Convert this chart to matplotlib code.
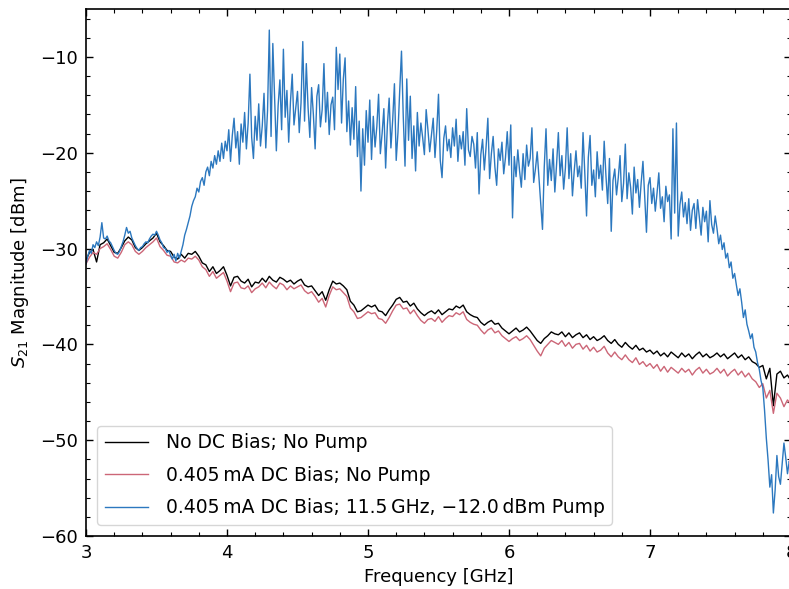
import numpy as np
import matplotlib
matplotlib.use("Agg")
import matplotlib.pyplot as plt
from matplotlib.ticker import MultipleLocator

plt.rcParams["font.family"] = ["DejaVu Sans"]
plt.rcParams["mathtext.fontset"] = "dejavusans"
plt.rcParams["axes.unicode_minus"] = True

# Frequency sweeps [GHz]
freq_ref = np.linspace(3.0, 8.0, 201)
freq_pump = np.linspace(3.0, 8.0, 401)

# |S21| with no DC bias and no pump [dBm]
s21_nobias = [
    -31.2, -30.4, -30.1, -31.4, -29.6, -29.4, -29.0, -29.7, -30.4, -30.5, -29.9, -29.2, -28.8, -29.1, -29.9, -30.2, -29.9, -29.5, -29.2, -28.9,
    -28.4, -29.3, -29.7, -30.2, -30.3, -30.9, -31.1, -30.6, -31.0, -30.5, -30.6, -30.3, -30.8, -31.5, -31.7, -32.4, -31.9, -32.6, -32.3, -31.9,
    -32.8, -33.9, -33.0, -32.9, -33.4, -33.6, -33.2, -34.0, -33.5, -33.6, -33.1, -33.5, -32.9, -33.3, -33.5, -33.0, -33.2, -33.5, -33.3, -33.7,
    -33.4, -33.2, -33.8, -34.0, -33.9, -34.4, -34.9, -34.5, -35.4, -34.3, -33.4, -33.7, -33.6, -33.9, -34.3, -35.5, -35.9, -36.6, -36.5, -36.2,
    -35.9, -36.1, -35.9, -36.5, -36.6, -37.0, -36.4, -35.9, -35.3, -35.1, -35.6, -35.5, -36.0, -35.7, -36.3, -36.7, -37.0, -36.7, -36.5, -36.8,
    -36.4, -36.9, -36.6, -36.3, -36.4, -36.0, -36.2, -35.9, -36.6, -36.9, -37.1, -37.2, -37.7, -38.0, -37.7, -37.5, -37.9, -37.8, -38.3, -38.6,
    -38.9, -38.6, -38.3, -38.7, -38.5, -38.2, -38.6, -39.1, -39.6, -39.9, -39.4, -39.1, -38.7, -38.9, -39.0, -38.7, -39.2, -38.8, -39.3, -39.0,
    -38.8, -39.3, -39.0, -39.5, -39.2, -39.6, -39.4, -39.1, -39.6, -39.9, -39.5, -40.0, -40.3, -39.8, -40.2, -40.5, -40.1, -40.6, -40.4, -40.8,
    -40.6, -41.0, -40.7, -41.2, -40.9, -41.3, -40.8, -41.1, -41.4, -40.9, -41.3, -41.0, -41.5, -41.1, -40.8, -41.3, -41.0, -41.4, -41.2, -40.9,
    -41.3, -41.0, -41.5, -41.2, -40.9, -41.4, -41.1, -41.6, -41.3, -41.8, -42.0, -42.4, -42.2, -43.6, -42.5, -46.4, -43.1, -42.8, -43.5, -43.2,
    -43.8,
]

# |S21| with 0.405 mA DC bias, no pump [dBm]
s21_bias = [
    -31.6, -30.9, -30.4, -30.6, -30.0, -29.8, -29.5, -30.1, -30.8, -31.0, -30.4, -29.6, -29.3, -29.6, -30.3, -30.6, -30.3, -29.9, -29.6, -29.3,
    -28.9, -29.8, -30.2, -30.7, -30.8, -31.4, -31.5, -31.2, -31.4, -31.0, -31.1, -30.8, -31.2, -31.9, -32.2, -32.9, -32.4, -33.1, -32.8, -32.5,
    -33.4, -34.5, -33.6, -33.5, -34.1, -34.2, -33.9, -34.6, -34.2, -34.0, -33.6, -34.1, -33.5, -33.9, -34.2, -33.6, -33.8, -34.3, -33.9, -34.2,
    -34.0, -33.8, -34.4, -34.7, -34.5, -35.0, -35.6, -35.2, -36.1, -34.9, -34.0, -34.3, -34.2, -34.6, -35.0, -36.2, -36.6, -37.3, -37.2, -36.9,
    -36.6, -36.8, -36.7, -37.3, -37.4, -37.8, -37.2, -36.5, -35.9, -35.8, -36.3, -36.2, -36.8, -36.4, -37.0, -37.5, -37.8, -37.4, -37.3, -37.6,
    -37.1, -37.7, -37.3, -37.0, -37.1, -36.7, -36.9, -36.6, -37.4, -37.7, -37.9, -38.0, -38.5, -38.9, -38.5, -38.3, -38.8, -38.6, -39.1, -39.4,
    -39.7, -39.4, -39.2, -39.6, -39.4, -39.1, -39.5, -40.1, -40.7, -41.2, -40.4, -40.0, -39.6, -39.8, -40.0, -39.6, -40.2, -39.8, -40.4, -40.0,
    -39.9, -40.5, -40.1, -40.7, -40.3, -40.8, -40.6, -40.2, -40.9, -41.3, -40.8, -41.3, -41.6, -41.1, -41.6, -41.9, -41.4, -42.1, -41.8, -42.3,
    -42.0, -42.5, -42.1, -42.8, -42.3, -42.9, -42.4, -42.7, -43.0, -42.5, -42.9, -42.6, -43.2, -42.7, -42.4, -43.0, -42.6, -43.1, -42.9, -42.5,
    -43.0, -42.6, -43.3, -42.9, -42.6, -43.2, -42.8, -43.4, -43.0, -43.6, -43.9, -44.5, -44.1, -45.6, -44.8, -47.2, -45.1, -45.6, -46.5, -45.8,
    -46.3,
]

# |S21| with 0.405 mA DC bias and an 11.5 GHz, -12 dBm pump [dBm]
s21_pumped = [
    -31.6, -30.8, -30.2, -30.5, -29.6, -29.9, -29.3, -29.7, -28.8, -27.3, -28.9, -29.0, -28.7, -29.2, -29.4, -29.8, -30.2, -30.5, -30.6, -30.3,
    -29.8, -29.3, -28.6, -27.8, -28.4, -28.2, -28.9, -29.3, -29.7, -30.0, -30.2, -29.9, -29.8, -29.5, -29.3, -29.4, -29.0, -28.7, -28.5, -28.6,
    -28.2, -28.6, -29.1, -29.4, -29.9, -30.0, -30.4, -30.2, -30.7, -31.1, -30.6, -31.3, -30.5, -31.0, -30.3, -29.6, -28.6, -28.0, -27.3, -26.6,
    -25.6, -25.0, -24.6, -23.7, -24.1, -23.0, -22.6, -23.4, -22.0, -21.5, -22.4, -20.9, -21.6, -20.3, -21.2, -19.8, -20.9, -19.0, -20.6, -18.8,
    -19.8, -17.6, -20.9, -18.2, -16.4, -19.5, -17.8, -21.2, -17.0, -18.9, -15.8, -19.6, -16.9, -11.8, -18.4, -20.6, -16.2, -18.7, -14.9, -19.3,
    -17.2, -13.8, -19.5, -15.6, -7.2, -18.3, -8.6, -14.2, -19.8, -15.1, -12.4, -17.6, -9.2, -16.3, -13.5, -18.9, -14.7, -11.8, -17.1, -15.4,
    -13.6, -17.9, -14.8, -8.4, -16.7, -10.7, -15.3, -18.4, -13.2, -16.0, -19.6, -14.1, -12.9, -17.3, -15.5, -10.7, -16.8, -13.7, -18.1, -15.0,
    -14.2, -17.6, -9.0, -13.4, -9.7, -16.9, -12.3, -10.1, -17.8, -14.6, -19.2, -15.3, -18.6, -13.1, -20.4, -16.7, -24.0, -17.5, -21.3, -15.6,
    -18.9, -14.5, -20.7, -16.2, -19.4, -17.3, -13.9, -20.1, -18.0, -15.4, -21.6, -17.1, -14.3, -19.5, -16.6, -12.8, -20.8, -17.9, -13.5, -9.4,
    -16.2, -21.4, -12.3, -18.7, -14.1, -20.6, -17.2, -21.9, -15.8, -19.3, -16.9, -18.4, -20.2, -15.5, -17.6, -19.9, -18.1, -16.4, -20.5, -17.7,
    -13.9, -20.8, -22.6, -18.5, -17.2, -19.8, -18.6, -20.5, -17.4, -19.3, -16.5, -20.9, -18.2, -19.6, -17.8, -21.3, -15.4, -19.7, -20.4, -18.3,
    -19.1, -21.6, -17.9, -24.3, -20.2, -18.6, -21.8, -19.4, -16.4, -22.7, -20.1, -18.3, -21.5, -23.4, -19.6, -20.8, -18.9, -22.2, -20.5, -17.8,
    -21.3, -17.1, -26.8, -20.4, -22.5, -19.7, -21.9, -23.6, -20.1, -22.8, -19.2, -21.4, -20.6, -17.4, -23.1, -21.7, -19.9, -22.6, -25.2, -28.0,
    -21.5, -17.5, -23.4, -20.7, -22.9, -19.6, -24.1, -21.2, -17.9, -22.4, -20.3, -23.8, -21.6, -17.4, -22.7, -20.1, -24.5, -21.9, -19.8, -22.5,
    -21.4, -23.7, -17.9, -22.1, -26.6, -20.5, -18.2, -23.4, -21.8, -24.6, -19.9, -22.7, -21.3, -23.9, -18.8, -22.4, -25.3, -20.6, -28.2, -22.9,
    -21.7, -24.4, -22.6, -20.3, -25.1, -23.2, -19.1, -24.8, -22.1, -23.6, -26.4, -21.5, -24.2, -22.8, -25.7, -23.1, -20.9, -24.6, -28.3, -23.4,
    -22.6, -25.3, -23.7, -26.1, -24.2, -22.1, -25.8, -24.6, -27.2, -23.5, -25.1, -24.4, -29.0, -17.5, -26.3, -16.9, -28.7, -25.4, -24.1, -26.7,
    -25.2, -27.4, -24.8, -28.1, -26.0, -25.3, -27.9, -24.9, -26.8, -28.6, -25.7, -27.2, -26.1, -29.3, -25.0, -27.5, -28.4, -26.6, -27.9, -29.5,
    -28.6, -30.1, -29.4, -31.0, -30.5, -32.0, -31.4, -33.1, -32.6, -33.8, -34.9, -34.2, -35.6, -37.2, -36.4, -37.9, -38.6, -39.4, -38.9, -40.3,
    -40.8, -41.9, -42.6, -43.8, -44.5, -46.9, -49.8, -52.1, -54.9, -53.6, -57.6, -55.2, -51.6, -53.8, -54.6, -52.4, -50.3, -51.8, -53.5, -52.2,
    -52.8,
]

labels = [
    "No DC Bias; No Pump",
    "0.405\u2009mA DC Bias; No Pump",
    "0.405\u2009mA DC Bias; 11.5\u2009GHz, \u221212.0\u2009dBm Pump",
]
colors = ["#000000", "#CC6677", "#2C78BF"]

W, H = 789, 589
fig = plt.figure(figsize=(W / 100, H / 100), dpi=100)
ax = fig.add_axes([86 / W, 53 / H, 705 / W, 527 / H])

ax.plot(freq_ref, s21_nobias, color=colors[0], lw=1.0, label=labels[0])
ax.plot(freq_ref, s21_bias, color=colors[1], lw=1.0, label=labels[1])
ax.plot(freq_pump, s21_pumped, color=colors[2], lw=1.0, label=labels[2])

ax.set_xlim(3, 8)
ax.set_ylim(-60, -5)
ax.xaxis.set_major_locator(MultipleLocator(1))
ax.xaxis.set_minor_locator(MultipleLocator(0.2))
ax.yaxis.set_major_locator(MultipleLocator(10))
ax.yaxis.set_minor_locator(MultipleLocator(2))
ax.tick_params(which="both", direction="in", top=True, right=True, labelsize=13)
ax.tick_params(which="major", length=5, width=1.0, pad=6)
ax.tick_params(which="minor", length=3, width=0.8)
for sp in ax.spines.values():
    sp.set_linewidth(1.2)

ax.set_xlabel("Frequency [GHz]", fontsize=13, labelpad=4)
ax.set_ylabel("$S_{21}$ Magnitude [dBm]", fontsize=13, labelpad=6)

leg = ax.legend(loc="lower left", fontsize=13.5, handlelength=2.3, handletextpad=0.95,
                labelspacing=0.72, borderaxespad=0.6, frameon=True, fancybox=True)
leg.get_frame().set_edgecolor("#cccccc")
for h in leg.get_lines():
    h.set_linewidth(1.0)

fig.savefig("out.png", dpi=100)
